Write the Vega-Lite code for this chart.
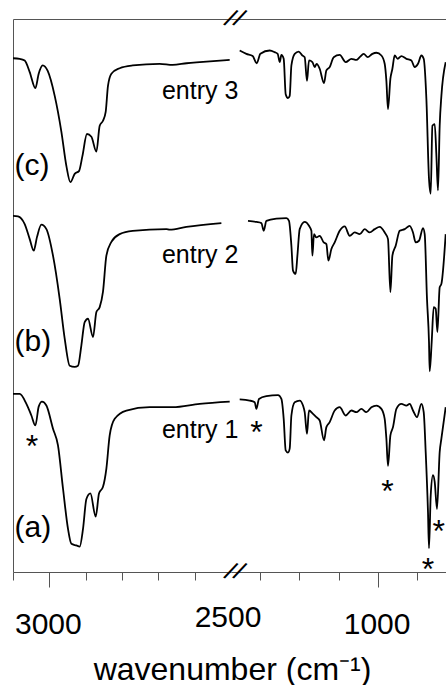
{
  "$schema": "https://vega.github.io/schema/vega-lite/v6.json",
  "padding": {"left": 9, "top": 5, "right": 0, "bottom": 0},
  "bounds": "flush",
  "spacing": 0,
  "config": {
    "view": {"stroke": null},
    "font": "Liberation Sans",
    "axis": {"grid": false, "domainColor": "#555", "tickColor": "#555", "domainWidth": 1, "tickWidth": 1, "labelColor": "#000", "labelFont": "Liberation Sans", "titleFont": "Liberation Sans"}
  },
  "datasets": {
    "left": [
      {"series":"c","wn":3100,"T":92.9},{"series":"c","wn":3081.6,"T":92.8},{"series":"c","wn":3067.8,"T":92.5},{"series":"c","wn":3054,"T":90.4},{"series":"c","wn":3038.4,"T":87.5},{"series":"c","wn":3029.3,"T":90.1},{"series":"c","wn":3018.3,"T":91.6},{"series":"c","wn":3004.5,"T":90.6},{"series":"c","wn":2985.2,"T":86.1},{"series":"c","wn":2966.8,"T":79.6},{"series":"c","wn":2953,"T":73.4},{"series":"c","wn":2942,"T":70.5},{"series":"c","wn":2930.2,"T":72.0},{"series":"c","wn":2918.4,"T":72.5},{"series":"c","wn":2909,"T":75.2},{"series":"c","wn":2896.4,"T":79.2},{"series":"c","wn":2884.2,"T":78.7},{"series":"c","wn":2870.5,"T":76.0},{"series":"c","wn":2861.4,"T":80.7},{"series":"c","wn":2852.3,"T":81.6},{"series":"c","wn":2844.9,"T":83.2},{"series":"c","wn":2838.6,"T":87.9},{"series":"c","wn":2829.2,"T":90.1},{"series":"c","wn":2806.4,"T":91.1},{"series":"c","wn":2770.6,"T":91.6},{"series":"c","wn":2696.3,"T":91.9},{"series":"c","wn":2660.5,"T":91.7},{"series":"c","wn":2622,"T":92.0},{"series":"c","wn":2586,"T":92.2},{"series":"c","wn":2503.6,"T":92.6},
      {"series":"b","wn":3100,"T":64.4},{"series":"b","wn":3086.2,"T":64.3},{"series":"b","wn":3067.8,"T":62.9},{"series":"b","wn":3054,"T":60.2},{"series":"b","wn":3043,"T":58.1},{"series":"b","wn":3033.9,"T":60.6},{"series":"b","wn":3021.8,"T":62.8},{"series":"b","wn":3008.1,"T":62.0},{"series":"b","wn":2989.9,"T":57.2},{"series":"b","wn":2971.5,"T":49.4},{"series":"b","wn":2957.7,"T":42.2},{"series":"b","wn":2944,"T":37.3},{"series":"b","wn":2930.2,"T":37.1},{"series":"b","wn":2921.1,"T":37.3},{"series":"b","wn":2911.8,"T":41.0},{"series":"b","wn":2902.7,"T":45.2},{"series":"b","wn":2893.6,"T":45.8},{"series":"b","wn":2879.8,"T":42.5},{"series":"b","wn":2870.5,"T":47.0},{"series":"b","wn":2861.4,"T":47.9},{"series":"b","wn":2852.3,"T":50.7},{"series":"b","wn":2843,"T":57.2},{"series":"b","wn":2829.2,"T":59.7},{"series":"b","wn":2806.4,"T":61.1},{"series":"b","wn":2770.6,"T":61.7},{"series":"b","wn":2677.8,"T":62.0},{"series":"b","wn":2668.8,"T":61.9},{"series":"b","wn":2622.8,"T":62.4},{"series":"b","wn":2526.5,"T":63.1},
      {"series":"a","wn":3100,"T":32.2},{"series":"a","wn":3081.6,"T":32.2},{"series":"a","wn":3063.1,"T":30.4},{"series":"a","wn":3049.4,"T":28.3},{"series":"a","wn":3038.4,"T":26.5},{"series":"a","wn":3029.3,"T":29.9},{"series":"a","wn":3020.2,"T":30.8},{"series":"a","wn":3008.1,"T":30.1},{"series":"a","wn":2989.9,"T":25.9},{"series":"a","wn":2976.2,"T":22.9},{"series":"a","wn":2962.4,"T":15.1},{"series":"a","wn":2948.6,"T":7.8},{"series":"a","wn":2939.3,"T":5.1},{"series":"a","wn":2925.5,"T":4.8},{"series":"a","wn":2916.4,"T":4.6},{"series":"a","wn":2907.3,"T":7.8},{"series":"a","wn":2898,"T":13.2},{"series":"a","wn":2887,"T":14.2},{"series":"a","wn":2872.4,"T":10.0},{"series":"a","wn":2863.3,"T":14.2},{"series":"a","wn":2852.3,"T":15.4},{"series":"a","wn":2843,"T":18.7},{"series":"a","wn":2833.9,"T":24.7},{"series":"a","wn":2820.1,"T":27.7},{"series":"a","wn":2787.9,"T":29.2},{"series":"a","wn":2723.8,"T":29.8},{"series":"a","wn":2660.5,"T":29.8},{"series":"a","wn":2586.2,"T":30.4},{"series":"a","wn":2503.6,"T":30.8}
    ],
    "right": [
      {"series":"c","wn":1705.5,"T":94.3},{"series":"c","wn":1671.2,"T":93.7},{"series":"c","wn":1639,"T":93.3},{"series":"c","wn":1618.5,"T":92.0},{"series":"c","wn":1599.6,"T":93.7},{"series":"c","wn":1552,"T":94.3},{"series":"c","wn":1526.4,"T":94.0},{"series":"c","wn":1511.1,"T":93.7},{"series":"c","wn":1500.8,"T":92.2},{"series":"c","wn":1492.2,"T":93.5},{"series":"c","wn":1480.4,"T":92.8},{"series":"c","wn":1470.2,"T":86.4},{"series":"c","wn":1458.4,"T":85.7},{"series":"c","wn":1449.7,"T":86.1},{"series":"c","wn":1441,"T":91.6},{"series":"c","wn":1424.1,"T":93.7},{"series":"c","wn":1403.6,"T":94.1},{"series":"c","wn":1384.7,"T":93.4},{"series":"c","wn":1373,"T":93.1},{"series":"c","wn":1361.2,"T":88.8},{"series":"c","wn":1351,"T":92.5},{"series":"c","wn":1333.6,"T":92.2},{"series":"c","wn":1321.8,"T":91.3},{"series":"c","wn":1311.6,"T":91.9},{"series":"c","wn":1296.2,"T":91.0},{"series":"c","wn":1274.2,"T":88.4},{"series":"c","wn":1262,"T":90.7},{"series":"c","wn":1245.1,"T":91.3},{"series":"c","wn":1224.6,"T":93.1},{"series":"c","wn":1193.9,"T":93.5},{"series":"c","wn":1163.2,"T":92.2},{"series":"c","wn":1134,"T":92.8},{"series":"c","wn":1108.5,"T":92.6},{"series":"c","wn":1091.6,"T":93.1},{"series":"c","wn":1071.1,"T":93.7},{"series":"c","wn":1050.6,"T":93.1},{"series":"c","wn":1026.6,"T":93.7},{"series":"c","wn":1006.1,"T":93.9},{"series":"c","wn":980.5,"T":93.4},{"series":"c","wn":963.7,"T":91.9},{"series":"c","wn":955,"T":88.8},{"series":"c","wn":946.8,"T":83.7},{"series":"c","wn":934.5,"T":89.2},{"series":"c","wn":924.3,"T":91.0},{"series":"c","wn":912.5,"T":93.4},{"series":"c","wn":897.2,"T":92.8},{"series":"c","wn":878.2,"T":93.3},{"series":"c","wn":852.7,"T":92.8},{"series":"c","wn":827.1,"T":92.5},{"series":"c","wn":810.2,"T":91.3},{"series":"c","wn":793.3,"T":91.9},{"series":"c","wn":775.9,"T":93.4},{"series":"c","wn":764.1,"T":92.8},{"series":"c","wn":750.3,"T":85.5},{"series":"c","wn":737,"T":71.1},{"series":"c","wn":728.3,"T":68.4},{"series":"c","wn":719.6,"T":80.7},{"series":"c","wn":707.8,"T":81.0},{"series":"c","wn":699.1,"T":75.3},{"series":"c","wn":691,"T":69.0},{"series":"c","wn":682.3,"T":80.7},{"series":"c","wn":673.6,"T":86.1},{"series":"c","wn":651.6,"T":92.2},
      {"series":"b","wn":1663,"T":63.5},{"series":"b","wn":1620.1,"T":63.3},{"series":"b","wn":1594.5,"T":63.1},{"series":"b","wn":1582.7,"T":61.7},{"series":"b","wn":1568.9,"T":63.5},{"series":"b","wn":1517.7,"T":63.9},{"series":"b","wn":1466.6,"T":64.0},{"series":"b","wn":1453.3,"T":63.5},{"series":"b","wn":1441,"T":59.0},{"series":"b","wn":1432.8,"T":54.5},{"series":"b","wn":1419,"T":53.9},{"series":"b","wn":1410.3,"T":57.2},{"series":"b","wn":1398.5,"T":62.0},{"series":"b","wn":1373,"T":63.3},{"series":"b","wn":1351,"T":62.6},{"series":"b","wn":1338.7,"T":61.7},{"series":"b","wn":1333.6,"T":57.2},{"series":"b","wn":1325.4,"T":61.1},{"series":"b","wn":1313.1,"T":60.5},{"series":"b","wn":1296.2,"T":60.8},{"series":"b","wn":1275.7,"T":59.6},{"series":"b","wn":1262,"T":59.3},{"series":"b","wn":1251.7,"T":56.3},{"series":"b","wn":1236.4,"T":58.4},{"series":"b","wn":1219.5,"T":59.6},{"series":"b","wn":1193.9,"T":61.7},{"series":"b","wn":1168.3,"T":62.5},{"series":"b","wn":1142.7,"T":60.8},{"series":"b","wn":1117.1,"T":61.4},{"series":"b","wn":1091.6,"T":61.1},{"series":"b","wn":1066,"T":62.0},{"series":"b","wn":1040.4,"T":61.4},{"series":"b","wn":1014.8,"T":62.0},{"series":"b","wn":989.2,"T":62.4},{"series":"b","wn":963.7,"T":61.4},{"series":"b","wn":946.8,"T":60.2},{"series":"b","wn":934.5,"T":50.6},{"series":"b","wn":924.3,"T":57.2},{"series":"b","wn":907.4,"T":59.0},{"series":"b","wn":887,"T":61.7},{"series":"b","wn":861.4,"T":62.0},{"series":"b","wn":835.8,"T":62.6},{"series":"b","wn":818.9,"T":61.4},{"series":"b","wn":805.1,"T":59.6},{"series":"b","wn":788.2,"T":59.9},{"series":"b","wn":767.7,"T":62.2},{"series":"b","wn":759,"T":61.1},{"series":"b","wn":747.3,"T":49.4},{"series":"b","wn":737,"T":41.6},{"series":"b","wn":733.4,"T":36.3},{"series":"b","wn":723.2,"T":41.6},{"series":"b","wn":712.9,"T":47.9},{"series":"b","wn":702.7,"T":47.6},{"series":"b","wn":694,"T":43.4},{"series":"b","wn":682.3,"T":51.5},{"series":"b","wn":673.6,"T":52.1},{"series":"b","wn":651.6,"T":61.1},
      {"series":"a","wn":1705.5,"T":31.2},{"series":"a","wn":1654.3,"T":31.0},{"series":"a","wn":1628.7,"T":30.7},{"series":"a","wn":1620.1,"T":29.5},{"series":"a","wn":1606.8,"T":31.3},{"series":"a","wn":1568.9,"T":31.8},{"series":"a","wn":1509.5,"T":32.0},{"series":"a","wn":1492.2,"T":31.3},{"series":"a","wn":1480.4,"T":27.7},{"series":"a","wn":1470.2,"T":22.0},{"series":"a","wn":1458.4,"T":21.6},{"series":"a","wn":1449.7,"T":22.3},{"series":"a","wn":1441,"T":28.3},{"series":"a","wn":1424.1,"T":30.7},{"series":"a","wn":1398.5,"T":31.0},{"series":"a","wn":1381.6,"T":30.1},{"series":"a","wn":1373,"T":28.9},{"series":"a","wn":1361.2,"T":25.0},{"series":"a","wn":1351,"T":29.2},{"series":"a","wn":1330.5,"T":28.6},{"series":"a","wn":1313.1,"T":28.0},{"series":"a","wn":1296.2,"T":27.4},{"series":"a","wn":1274.2,"T":23.8},{"series":"a","wn":1262,"T":26.2},{"series":"a","wn":1245.1,"T":27.1},{"series":"a","wn":1219.5,"T":29.2},{"series":"a","wn":1193.9,"T":29.8},{"series":"a","wn":1163.2,"T":28.3},{"series":"a","wn":1134,"T":29.2},{"series":"a","wn":1108.5,"T":28.9},{"series":"a","wn":1082.9,"T":29.5},{"series":"a","wn":1057.3,"T":28.9},{"series":"a","wn":1031.7,"T":29.8},{"series":"a","wn":1006.1,"T":30.1},{"series":"a","wn":980.5,"T":29.5},{"series":"a","wn":963.7,"T":27.7},{"series":"a","wn":955,"T":24.1},{"series":"a","wn":946.8,"T":19.2},{"series":"a","wn":934.5,"T":24.7},{"series":"a","wn":921.2,"T":26.2},{"series":"a","wn":903.8,"T":29.5},{"series":"a","wn":878.2,"T":30.4},{"series":"a","wn":852.7,"T":30.1},{"series":"a","wn":835.8,"T":30.4},{"series":"a","wn":818.9,"T":29.2},{"series":"a","wn":798.4,"T":28.0},{"series":"a","wn":775.9,"T":30.4},{"series":"a","wn":764.1,"T":28.9},{"series":"a","wn":753.9,"T":21.7},{"series":"a","wn":742.1,"T":10.8},{"series":"a","wn":737,"T":4.3},{"series":"a","wn":728.3,"T":13.8},{"series":"a","wn":716.6,"T":17.5},{"series":"a","wn":707.8,"T":16.3},{"series":"a","wn":696.1,"T":11.4},{"series":"a","wn":682.3,"T":21.7},{"series":"a","wn":673.6,"T":24.1},{"series":"a","wn":651.6,"T":29.8}
    ],
    "panelLabels": [
      {"wn":3096,"T":73.4,"label":"(c)"},{"wn":3096,"T":41.6,"label":"(b)"},{"wn":3096,"T":7.9,"label":"(a)"}
    ],
    "entryLabels": [
      {"wn":2690,"T":85.5,"label":"entry 3"},{"wn":2690,"T":55.9,"label":"entry 2"},{"wn":2690,"T":24.2,"label":"entry 1"}
    ],
    "starsLeft": [{"wn":3047.7,"T":24.1}],
    "starsRight": [{"wn":1620,"T":26.5},{"wn":950,"T":16.0},{"wn":742,"T":1.8},{"wn":687.4,"T":8.7}],
    "breaks": [{"wn":1754,"T":100},{"wn":1708,"T":100},{"wn":1754,"T":0},{"wn":1708,"T":0}]
  },
  "hconcat": [
    {
      "width": 218,
      "height": 553,
      "encoding": {
        "y": {"field": "T", "type": "quantitative", "scale": {"domain": [0, 100], "nice": false, "zero": false},
              "axis": {"labels": false, "ticks": false, "title": null, "domain": true, "grid": false, "minExtent": 0}}
      },
      "layer": [
        {
          "data": {"name": "left"},
          "mark": {"type": "line", "color": "#000", "strokeWidth": 1.8, "interpolate": "monotone"},
          "encoding": {
            "x": {"field": "wn", "type": "quantitative", "scale": {"domain": [3100, 2500], "nice": false, "zero": false},
                  "axis": {"values": [3100, 3000, 2900, 2800, 2700, 2600, 2500], "format": "d",
                           "labelExpr": "datum.value == 3000 || datum.value == 2500 ? datum.label : ''",
                           "tickSize": {"condition": {"test": "datum.value == 3000", "value": 15}, "value": 8},
                           "tickOpacity": {"condition": {"test": "datum.value == 2500", "value": 0}, "value": 1},
                           "labelOffset": {"condition": {"test": "datum.value == 2500", "value": -3.5}, "value": -1.5},
                           "labelFontSize": 30, "labelPadding": 22, "labelFlush": false, "labelOverlap": false, "labelBaseline": "top",
                           "title": "wavenumber (cm⁻¹)", "titleFontSize": 32, "titleFontWeight": "normal", "titleColor": "#000",
                           "titleX": 219, "titleY": 107, "titleBaseline": "alphabetic", "titleAlign": "center"}},
            "detail": {"field": "series"}
          }
        },
        {
          "data": {"name": "panelLabels"},
          "mark": {"type": "text", "fontSize": 30, "align": "left", "baseline": "middle", "color": "#000"},
          "encoding": {
            "x": {"field": "wn", "type": "quantitative", "axis": {"orient": "top", "labels": false, "ticks": false, "title": null, "domain": true, "grid": false}},
            "text": {"field": "label"}
          }
        },
        {
          "data": {"name": "entryLabels"},
          "mark": {"type": "text", "fontSize": 25, "align": "left", "baseline": "alphabetic", "color": "#000"},
          "encoding": {
            "x": {"field": "wn", "type": "quantitative", "axis": null},
            "text": {"field": "label"}
          }
        },
        {
          "data": {"name": "starsLeft"},
          "mark": {"type": "text", "text": "*", "fontSize": 32, "align": "center", "baseline": "alphabetic", "dy": 18, "color": "#000"},
          "encoding": {
            "x": {"field": "wn", "type": "quantitative", "axis": null}
          }
        }
      ],
      "resolve": {"axis": {"x": "independent"}}
    },
    {
      "width": 215,
      "height": 553,
      "encoding": {
        "y": {"field": "T", "type": "quantitative", "scale": {"domain": [0, 100], "nice": false, "zero": false}, "axis": null}
      },
      "layer": [
        {
          "data": {"name": "right"},
          "mark": {"type": "line", "color": "#000", "strokeWidth": 1.8, "interpolate": "monotone"},
          "encoding": {
            "x": {"field": "wn", "type": "quantitative", "scale": {"domain": [1750, 650], "nice": false, "zero": false},
                  "axis": {"values": [1600, 1400, 1200, 1000, 800], "format": "d",
                           "labelExpr": "datum.value == 1000 ? datum.label : ''",
                           "tickSize": {"condition": {"test": "datum.value == 1000", "value": 15}, "value": 8},
                           "labelFontSize": 30, "labelPadding": 22, "labelFlush": false, "labelOverlap": false, "labelBaseline": "top", "labelOffset": -1,
                           "title": null}},
            "detail": {"field": "series"}
          }
        },
        {
          "data": {"name": "breaks"},
          "mark": {"type": "text", "text": "/", "fontSize": 26, "angle": 28, "align": "center", "baseline": "middle", "color": "#000"},
          "encoding": {
            "x": {"field": "wn", "type": "quantitative", "axis": {"orient": "top", "labels": false, "ticks": false, "title": null, "domain": true, "grid": false}}
          }
        },
        {
          "data": {"name": "starsRight"},
          "mark": {"type": "text", "text": "*", "fontSize": 32, "align": "center", "baseline": "alphabetic", "dy": 18, "color": "#000"},
          "encoding": {
            "x": {"field": "wn", "type": "quantitative", "axis": null}
          }
        }
      ],
      "resolve": {"axis": {"x": "independent"}}
    }
  ]
}
